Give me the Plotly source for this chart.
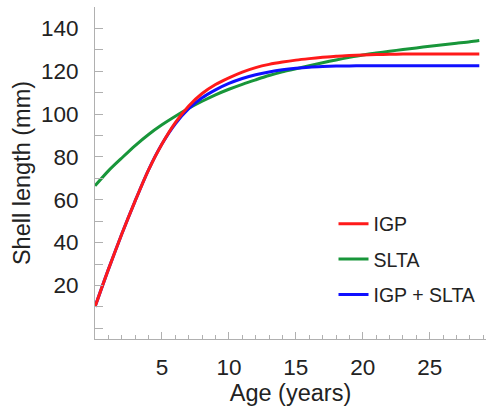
import plotly.graph_objects as go

age = [0, 1, 2, 3, 4, 5, 6, 7, 8, 9, 10, 11, 12, 13, 14, 15, 16, 17, 18, 19,
       20, 21, 22, 23, 24, 25, 26, 27, 28, 28.7]

igp = [10, 27.5, 44, 59.5, 74, 86, 96, 103.8, 109.6, 113.8, 116.9, 119.6, 121.7, 123.2,
       124.3, 125.2, 125.9, 126.5, 127, 127.3, 127.6, 127.8, 127.9, 128, 128, 128,
       128, 128, 128, 128]

slta = [66.5, 73.5, 79.5, 85.3, 90.5, 95, 99, 102.7, 106, 109, 111.6, 113.9, 116,
        118, 119.7, 121.1, 122.6, 124, 125.3, 126.5, 127.6, 128.5, 129.35, 130.15,
        130.9, 131.65, 132.4, 133.1, 133.8, 134.4]

igp_slta = [10, 27.5, 44, 59.5, 74, 86, 95.5, 102.5, 107.6, 111.3, 114.3, 116.6, 118.4,
            119.7, 120.7, 121.4, 121.9, 122.2, 122.4, 122.5, 122.6, 122.6, 122.6, 122.6,
            122.6, 122.6, 122.6, 122.6, 122.6, 122.6]

names = ["IGP", "SLTA", "IGP + SLTA"]
colors = ["#ff1a1a", "#18963a", "#1010ff"]

y_tickvals = list(range(0, 151, 10))
y_ticktext = [str(v) if (v % 20 == 0 and 20 <= v <= 140) else "" for v in y_tickvals]
x_tickvals = [0, 5, 10, 15, 20, 25]
x_ticktext = ["", "5", "10", "15", "20", "25"]

FONT = "Liberation Sans, Arial, sans-serif"
TXT = "#222222"

fig = go.Figure()
series = [igp, slta, igp_slta]
# draw order: SLTA, IGP+SLTA, IGP (IGP on top)
for idx in [1, 2, 0]:
    fig.add_trace(go.Scatter(
        x=age, y=series[idx], mode="lines", name=names[idx],
        line=dict(color=colors[idx], width=3, shape="spline", smoothing=0.8),
        legendrank=idx + 1, legendgroup=names[idx],
    ))

axis_color = "#b0b0b0"
fig.update_layout(
    width=487, height=411,
    margin=dict(l=95, r=1, t=7, b=72),
    plot_bgcolor="white", paper_bgcolor="white",
    font=dict(family=FONT, color=TXT),
    showlegend=True,
    legend=dict(x=0.61, y=0.405, xanchor="left", yanchor="top",
                font=dict(size=19.5, family=FONT, color=TXT),
                bgcolor="rgba(0,0,0,0)", tracegroupgap=7),
    xaxis=dict(range=[0, 29.2], showgrid=False, zeroline=False,
               showline=True, linecolor=axis_color, linewidth=1,
               tickmode="array", tickvals=x_tickvals, ticktext=x_ticktext,
               ticks="inside", ticklen=7, tickcolor=axis_color, tickwidth=1,
               minor=dict(dtick=1, ticks="inside", ticklen=4, tickcolor=axis_color, showgrid=False),
               tickfont=dict(size=22.5, family=FONT, color=TXT),
               ticklabelstandoff=8,
               title=dict(text="Age (years)", font=dict(size=23.5, family=FONT, color=TXT), standoff=5)),
    yaxis=dict(range=[-5, 150], showgrid=False, zeroline=False,
               showline=True, linecolor=axis_color, linewidth=1,
               tickmode="array", tickvals=y_tickvals, ticktext=y_ticktext,
               ticks="inside", ticklen=8, tickcolor=axis_color, tickwidth=1,
               tickfont=dict(size=22.5, family=FONT, color=TXT),
               ticklabelstandoff=11,
               title=dict(text="Shell length (mm)", font=dict(size=23.5, family=FONT, color=TXT), standoff=3)),
)

fig.write_html("out.html")
